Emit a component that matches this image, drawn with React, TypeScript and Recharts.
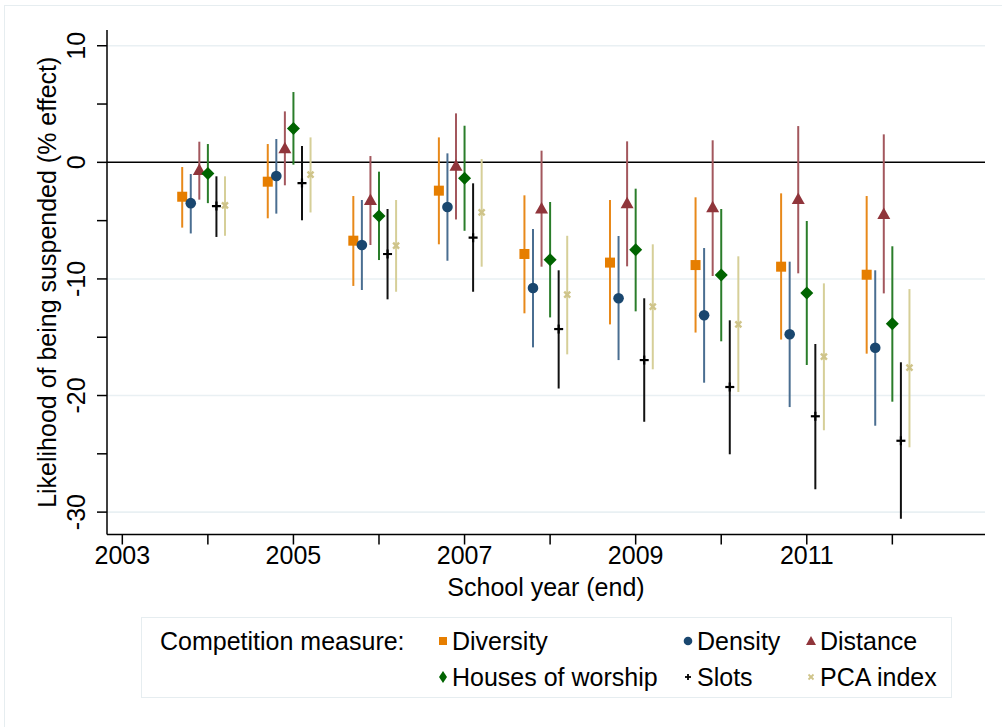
import React from 'react';
import { ComposedChart, Scatter, XAxis, YAxis, ErrorBar, ReferenceLine } from 'recharts';

const years = [2004, 2005, 2006, 2007, 2008, 2009, 2010, 2011, 2012];
const xTicks = [2003, 2004, 2005, 2006, 2007, 2008, 2009, 2010, 2011, 2012];
const yTicks = [10, 5, 0, -5, -10, -15, -20, -25, -30];
const gridValues = [10, -10, -20, -30];

const diversity = [-2.95, -1.66, -6.72, -2.43, -7.86, -8.6, -8.81, -8.95, -9.64];
const diversityLo = [-5.6, -4.8, -10.6, -7.03, -12.95, -13.9, -14.6, -15.2, -16.41];
const diversityHi = [-0.4, 1.57, -2.89, 2.14, -2.83, -3.23, -3.0, -2.66, -2.89];

const density = [-3.5, -1.17, -7.09, -3.83, -10.78, -11.66, -13.12, -14.75, -15.9];
const densityLo = [-6.1, -4.4, -10.95, -8.44, -15.87, -16.96, -18.9, -20.99, -22.59];
const densityHi = [-1.0, 2.0, -3.23, 0.77, -5.72, -6.32, -7.35, -8.52, -9.26];

const distance = [-0.66, 1.2, -3.23, -0.29, -3.95, -3.52, -3.86, -3.15, -4.43];
const distanceLo = [-3.2, -1.97, -7.09, -4.9, -8.95, -8.92, -9.75, -9.52, -11.24];
const distanceHi = [1.77, 4.37, 0.54, 4.2, 1.0, 1.8, 1.89, 3.11, 2.4];

const houses = [-0.95, 2.9, -4.6, -1.37, -8.35, -7.5, -9.67, -11.2, -13.84];
const housesLo = [-3.5, -0.2, -8.38, -5.87, -13.3, -12.78, -15.35, -17.38, -20.53];
const housesHi = [1.57, 6.03, -0.8, 3.14, -3.4, -2.26, -4.0, -5.03, -7.2];

const slots = [-3.75, -1.78, -7.86, -6.46, -14.3, -16.96, -19.27, -21.78, -23.88];
const slotsLo = [-6.4, -4.97, -11.75, -11.1, -19.4, -22.25, -25.04, -28.04, -30.57];
const slotsHi = [-1.2, 1.4, -4.0, -1.8, -9.26, -11.66, -13.55, -15.58, -17.15];

const pca = [-3.7, -1.06, -7.15, -4.29, -11.35, -12.38, -13.9, -16.67, -17.6];
const pcaLo = [-6.3, -4.3, -11.1, -8.95, -16.47, -17.75, -19.7, -22.98, -24.44];
const pcaHi = [-1.2, 2.14, -3.23, 0.28, -6.3, -7.03, -8.06, -10.38, -10.87];

const FONT = '"Liberation Sans", Arial, Helvetica, sans-serif';

const C_DIV = '#e67e00';
const C_DEN = '#1a476f';
const C_DIS = '#90353b';
const C_HOU = '#006400';
const C_SLO = '#000000';
const C_PCA = '#cfc48a';

function build(vals: number[], lo: number[], hi: number[], off: number) {
  return years.map((yr, i) => ({
    x: yr + off,
    y: vals[i],
    err: [vals[i] - lo[i], hi[i] - vals[i]],
  }));
}

const SquareShape = (p: any) => (
  <rect x={p.cx - 5} y={p.cy - 5} width={10} height={10} fill={C_DIV} />
);
const CircleShape = (p: any) => <circle cx={p.cx} cy={p.cy} r={5.3} fill={C_DEN} />;
const TriangleShape = (p: any) => (
  <polygon
    points={`${p.cx},${p.cy - 6.5} ${p.cx - 6.5},${p.cy + 5} ${p.cx + 6.5},${p.cy + 5}`}
    fill={C_DIS}
  />
);
const DiamondShape = (p: any) => (
  <polygon
    points={`${p.cx},${p.cy - 6.5} ${p.cx + 6.5},${p.cy} ${p.cx},${p.cy + 6.5} ${p.cx - 6.5},${p.cy}`}
    fill={C_HOU}
  />
);
const PlusShape = (p: any) => (
  <g stroke={C_SLO} strokeWidth={2.2}>
    <line x1={p.cx - 4.5} y1={p.cy} x2={p.cx + 4.5} y2={p.cy} />
    <line x1={p.cx} y1={p.cy - 4.5} x2={p.cx} y2={p.cy + 4.5} />
  </g>
);
const XShape = (p: any) => (
  <g stroke={C_PCA} strokeWidth={2.4}>
    <line x1={p.cx - 3} y1={p.cy - 3} x2={p.cx + 3} y2={p.cy + 3} />
    <line x1={p.cx - 3} y1={p.cy + 3} x2={p.cx + 3} y2={p.cy - 3} />
  </g>
);

const series = [
  { name: 'Diversity', data: build(diversity, diversityLo, diversityHi, -0.3), shape: SquareShape, color: C_DIV, ci: '#e8891a' },
  { name: 'Density', data: build(density, densityLo, densityHi, -0.2), shape: CircleShape, color: C_DEN, ci: '#4a6e91' },
  { name: 'Distance', data: build(distance, distanceLo, distanceHi, -0.1), shape: TriangleShape, color: C_DIS, ci: '#a3575d' },
  { name: 'Houses of worship', data: build(houses, housesLo, housesHi, 0), shape: DiamondShape, color: C_HOU, ci: '#2a7d2a' },
  { name: 'Slots', data: build(slots, slotsLo, slotsHi, 0.1), shape: PlusShape, color: C_SLO, ci: '#111111' },
  { name: 'PCA index', data: build(pca, pcaLo, pcaHi, 0.2), shape: XShape, color: C_PCA, ci: '#d6cf98' },
];

const YTick = (p: any) => {
  const v = p.payload.value;
  if (v % 10 !== 0) return null;
  const x = 76;
  return (
    <text
      x={x}
      y={p.y}
      transform={`rotate(-90, ${x}, ${p.y})`}
      textAnchor="middle"
      dominantBaseline="central"
      fontSize={25}
      fontFamily={FONT}
      fill="#000"
    >
      {v}
    </text>
  );
};

const XTick = (p: any) => {
  const v = p.payload.value;
  if (v % 2 === 0) return null;
  return (
    <text x={p.x} y={564} textAnchor="middle" fontSize={25} fontFamily={FONT} fill="#000">
      {v}
    </text>
  );
};

const XTitle = (p: any) => {
  const vb = p.viewBox;
  return (
    <text x={vb.x + vb.width / 2} y={596} textAnchor="middle" fontSize={25} fontFamily={FONT} fill="#000">
      School year (end)
    </text>
  );
};

const YTitle = (p: any) => {
  const vb = p.viewBox;
  const x = 47;
  const y = vb.y + vb.height / 2;
  return (
    <text
      x={x}
      y={y}
      transform={`rotate(-90, ${x}, ${y})`}
      textAnchor="middle"
      dominantBaseline="central"
      fontSize={25}
      fontFamily={FONT}
      fill="#000"
    >
      Likelihood of being suspended (% effect)
    </text>
  );
};

const LegendMarker = ({ kind }: { kind: string }) => {
  const s = 14;
  const c = s / 2;
  let el: any = null;
  if (kind === 'Diversity') el = <rect x={c - 4} y={c - 4} width={8} height={8} fill={C_DIV} />;
  if (kind === 'Density') el = <circle cx={c} cy={c} r={4.3} fill={C_DEN} />;
  if (kind === 'Distance') el = <polygon points={`${c},${c - 5} ${c - 5},${c + 4} ${c + 5},${c + 4}`} fill={C_DIS} />;
  if (kind === 'Houses of worship') el = <polygon points={`${c},${c - 6} ${c + 4},${c} ${c},${c + 6} ${c - 4},${c}`} fill={C_HOU} />;
  if (kind === 'Slots')
    el = (
      <g stroke={C_SLO} strokeWidth={1.8}>
        <line x1={c - 3} y1={c} x2={c + 3} y2={c} />
        <line x1={c} y1={c - 3} x2={c} y2={c + 3} />
      </g>
    );
  if (kind === 'PCA index')
    el = (
      <g stroke={C_PCA} strokeWidth={1.8}>
        <line x1={c - 2.5} y1={c - 2.5} x2={c + 2.5} y2={c + 2.5} />
        <line x1={c - 2.5} y1={c + 2.5} x2={c + 2.5} y2={c - 2.5} />
      </g>
    );
  return (
    <svg width={s} height={s} style={{ position: 'absolute', left: -16, top: '50%', marginTop: -s / 2 }}>
      {el}
    </svg>
  );
};

const legendPos = [
  { name: 'Diversity', left: 452, top: 641 },
  { name: 'Density', left: 697, top: 641 },
  { name: 'Distance', left: 820, top: 641 },
  { name: 'Houses of worship', left: 452, top: 677 },
  { name: 'Slots', left: 697, top: 677 },
  { name: 'PCA index', left: 820, top: 677 },
];

export default function App() {
  return (
    <div style={{ position: 'absolute', left: 0, top: 0, width: 1002, height: 727, background: '#fff', fontFamily: FONT, overflow: 'hidden' }}>
      <div style={{ position: 'absolute', left: 4, top: 5, width: 1010, height: 740, border: '1px solid #e6edf0', boxSizing: 'border-box' }} />
      <div style={{ position: 'absolute', left: 0, top: 0 }}>
        <ComposedChart width={1002} height={727} margin={{ top: 30, right: 17, bottom: 132.5, left: 47 }}>
          <XAxis
            type="number"
            dataKey="x"
            domain={[2002.821, 2013.083]}
            allowDataOverflow
            ticks={xTicks}
            interval={0}
            height={60}
            tickSize={10}
            tick={<XTick />}
            axisLine={{ stroke: '#000', strokeWidth: 1.5 }}
            tickLine={{ stroke: '#000', strokeWidth: 1.5 }}
            label={<XTitle />}
          />
          <YAxis
            type="number"
            dataKey="y"
            domain={[-31.92, 11.35]}
            allowDataOverflow
            ticks={yTicks}
            interval={0}
            width={60}
            tickSize={10}
            tick={<YTick />}
            axisLine={{ stroke: '#000', strokeWidth: 1.5 }}
            tickLine={{ stroke: '#000', strokeWidth: 1.5 }}
            label={<YTitle />}
          />
          {gridValues.map((g) => (
            <ReferenceLine key={g} y={g} stroke="#e9f0f3" strokeWidth={1.6} />
          ))}
          <ReferenceLine y={0} stroke="#000" strokeWidth={1.5} />
          {series.map((s) => (
            <Scatter key={s.name} name={s.name} data={s.data} shape={s.shape} isAnimationActive={false} fill={s.color}>
              <ErrorBar dataKey="err" direction="y" width={0} stroke={s.ci} strokeWidth={2} isAnimationActive={false} />
            </Scatter>
          ))}
        </ComposedChart>
      </div>
      <div
        style={{
          position: 'absolute',
          left: 141,
          top: 617,
          width: 811,
          height: 81,
          border: '1px solid #e6edf0',
          boxSizing: 'border-box',
        }}
      />
      <div style={{ position: 'absolute', left: 160, top: 641, transform: 'translateY(-50%)', fontSize: 25, lineHeight: '30px', whiteSpace: 'nowrap' }}>
        Competition measure:
      </div>
      {legendPos.map((l) => (
        <div
          key={l.name}
          style={{ position: 'absolute', left: l.left, top: l.top, transform: 'translateY(-50%)', fontSize: 25, lineHeight: '30px', whiteSpace: 'nowrap' }}
        >
          <LegendMarker kind={l.name} />
          {l.name}
        </div>
      ))}
    </div>
  );
}
